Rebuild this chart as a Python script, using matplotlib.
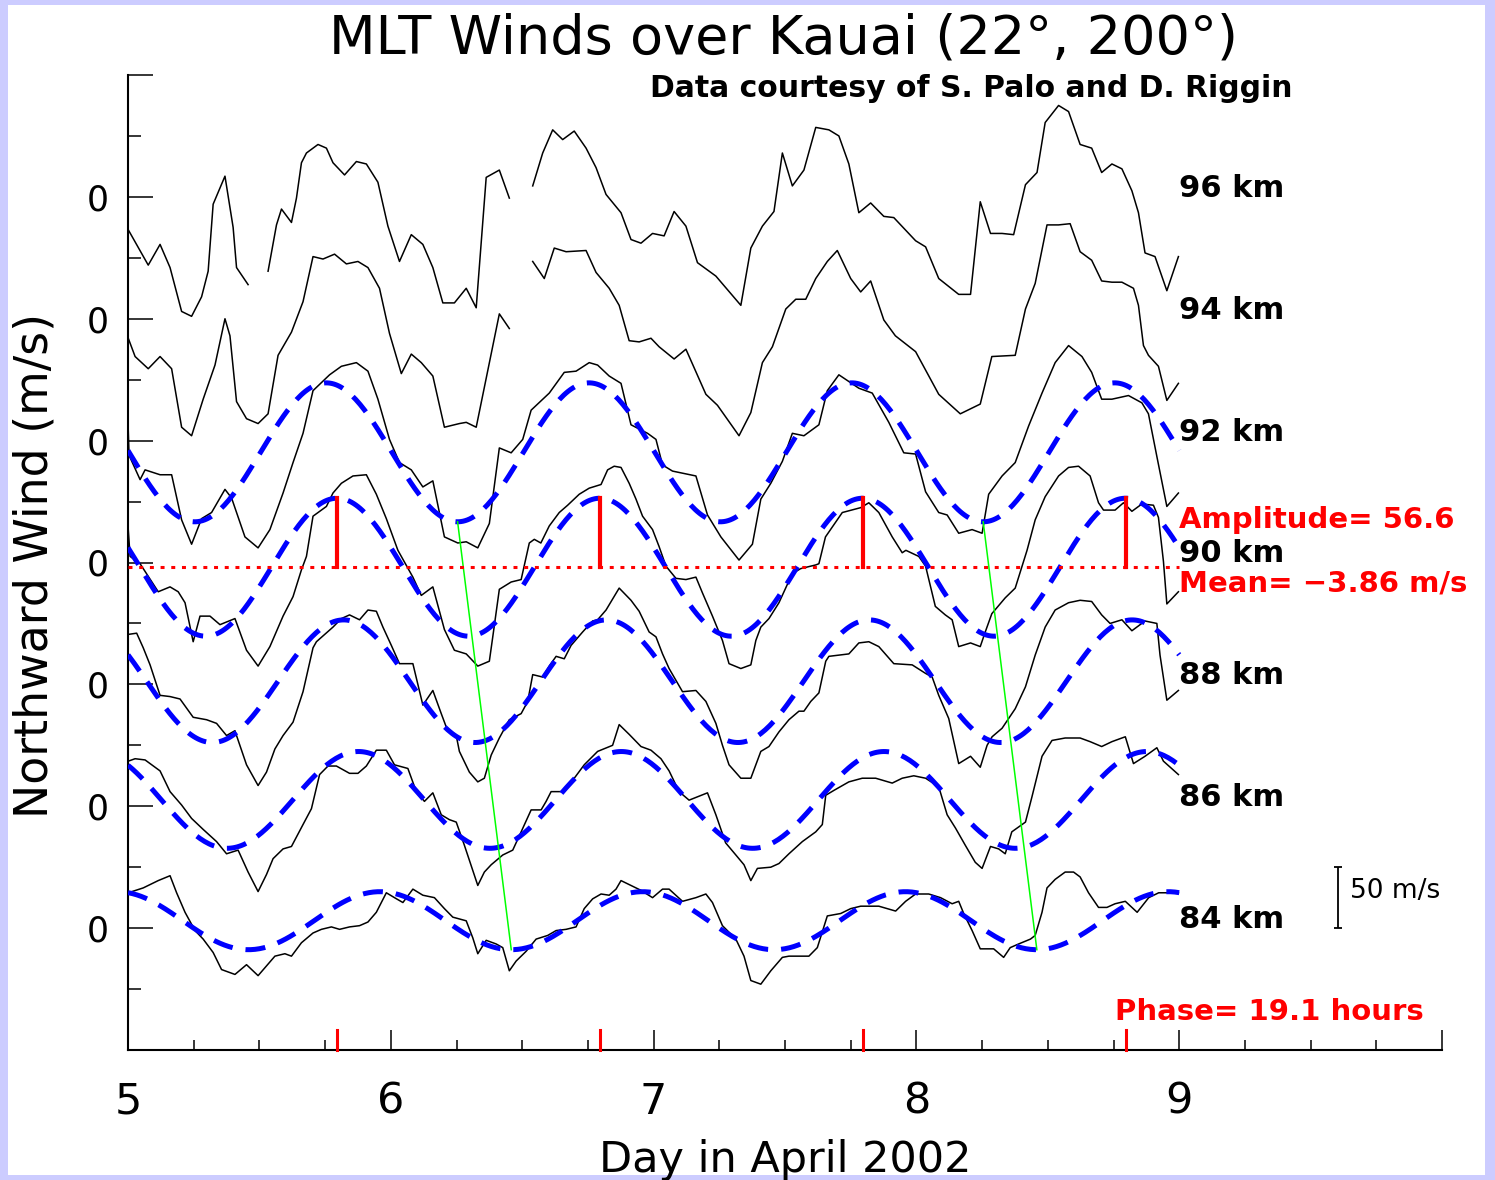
import numpy as np
import matplotlib.pyplot as plt
from matplotlib.patches import Rectangle
from matplotlib.ticker import FixedLocator, MultipleLocator, FuncFormatter
from matplotlib.transforms import blended_transform_factory

plt.rcParams['font.family'] = 'DejaVu Sans'

nan = np.nan

# every height is drawn shifted up by 100 m/s
heights = [84, 86, 88, 90, 92, 94, 96]
offsets = [0, 100, 200, 300, 400, 500, 600]

# northward wind (m/s) against day in April 2002, nan = data gap
t96 = [5.001, 5.077, 5.122, 5.160, 5.204, 5.242, 5.280, 5.305, 5.324, 5.369, 5.400, 5.413, 5.457, nan,
       5.533, 5.565, 5.584, 5.622, 5.641, 5.660, 5.679, 5.723, 5.755, 5.780, 5.824, 5.869, 5.907,
       5.951, 5.989, 6.033, 6.078, 6.122, 6.160, 6.198, 6.242, 6.287, 6.325, 6.363, 6.413, 6.451, nan,
       6.540, 6.578, 6.616, 6.654, 6.698, 6.743, 6.781, 6.819, 6.876, 6.914, 6.952, 6.996, 7.040,
       7.078, 7.123, 7.167, 7.237, 7.332, 7.370, 7.414, 7.458, 7.490, 7.528, 7.572, 7.617, 7.667,
       7.705, 7.743, 7.781, 7.826, 7.876, 7.914, 7.997, 8.035, 8.085, 8.161, 8.206, 8.243, 8.282,
       8.326, 8.370, 8.415, 8.459, 8.490, 8.541, 8.579, 8.623, 8.667, 8.705, 8.744, 8.782, 8.820,
       8.845, 8.870, 8.908, 8.953, 8.997]
u96 = [-27, -56, -39, -58, -94, -98, -82, -61, -6, 17, -25, -58, -72, nan,
       -61, -23, -10, -21, -1, 28, 36, 43, 40, 28, 18, 29, 27,
       12, -24, -53, -31, -39, -58, -87, -87, -75, -91, 16, 22, -1, nan,
       9, 36, 55, 47, 54, 40, 24, 2, -13, -35, -38, -30, -32,
       -12, -24, -54, -65, -89, -42, -24, -12, 36, 9, 22, 57, 55,
       50, 27, -13, -5, -16, -17, -36, -41, -67, -80, -80, -4, -30,
       -30, -31, 10, 20, 61, 75, 70, 43, 40, 20, 27, 23, 5,
       -13, -46, -49, -77, -49]

t94 = [5.001, 5.027, 5.077, 5.122, 5.166, 5.204, 5.242, 5.286, 5.331, 5.369, 5.388, 5.413, 5.451,
       5.495, 5.533, 5.571, 5.622, 5.666, 5.704, 5.742, 5.786, 5.831, 5.875, 5.913, 5.957, 5.995,
       6.040, 6.078, 6.116, 6.160, 6.204, 6.261, 6.287, 6.325, 6.413, 6.451, nan,
       6.540, 6.584, 6.622, 6.667, 6.743, 6.781, 6.831, 6.869, 6.907, 6.945, 6.990, 7.021, 7.078,
       7.123, 7.199, 7.243, 7.325, 7.370, 7.414, 7.452, 7.503, 7.541, 7.579, 7.617, 7.661, 7.699,
       7.750, 7.788, 7.826, 7.876, 7.920, 7.997, 8.085, 8.167, 8.243, 8.287, 8.376, 8.415, 8.452,
       8.497, 8.541, 8.585, 8.623, 8.667, 8.705, 8.744, 8.782, 8.826, 8.845, 8.864, 8.883, 8.921,
       8.953, 8.997]
u94 = [-16, -31, -41, -31, -41, -89, -96, -66, -38, 0, -14, -68, -82,
       -86, -78, -30, -11, 14, 51, 49, 53, 45, 47, 42, 25, -12,
       -45, -29, -36, -47, -89, -86, -85, -89, 4, -8, nan,
       47, 33, 58, 55, 56, 38, 25, 11, -18, -19, -16, -23, -33,
       -25, -62, -71, -96, -77, -36, -23, 8, 16, 16, 33, 47, 56,
       33, 22, 31, -1, -14, -27, -62, -78, -70, -31, -30, 8, 29,
       77, 77, 78, 55, 48, 31, 30, 30, 25, 11, -22, -30, -39,
       -67, -53]

t92 = [5.000, 5.004, 5.046, 5.065, 5.122, 5.166, 5.204, 5.242, 5.280, 5.318, 5.369, 5.394, 5.445,
       5.495, 5.540, 5.590, 5.628, 5.666, 5.704, 5.767, 5.812, 5.869, 5.913, 5.951, 5.995, 6.033,
       6.078, 6.122, 6.160, 6.204, 6.255, 6.287, 6.331, 6.375, 6.413, 6.458, 6.502, 6.534, 6.603,
       6.660, 6.705, 6.755, 6.787, 6.831, 6.876, 6.914, 6.977, 7.009, 7.034, 7.072, 7.161, 7.205,
       7.256, 7.325, 7.376, 7.408, 7.446, 7.490, 7.528, 7.572, 7.629, 7.661, 7.705, 7.781, 7.832,
       7.895, 7.952, 7.997, 8.035, 8.085, 8.117, 8.161, 8.212, 8.250, 8.275, 8.326, 8.376, 8.427,
       8.478, 8.528, 8.579, 8.630, 8.667, 8.705, 8.744, 8.807, 8.858, 8.883, 8.915, 8.953, 8.997]
u92 = [15, -12, -32, -24, -28, -28, -65, -85, -64, -59, -40, -47, -79,
       -88, -73, -43, -18, 6, 41, 54, 61, 64, 57, 34, 1, -18,
       -24, -38, -33, -79, -84, -83, -88, -68, -6, -10, 1, 25, 39,
       56, 57, 64, 62, 53, 47, 13, 6, 1, -20, -25, -29, -61,
       -79, -98, -85, -48, -35, -17, 6, 4, 13, 41, 54, 43, 39,
       15, -10, -11, -42, -59, -61, -76, -73, -76, -44, -29, -18, 12,
       39, 64, 78, 69, 56, 34, 34, 37, 31, 22, -13, -54, -43]

t90 = [5.000, 5.008, 5.046, 5.115, 5.160, 5.191, 5.217, 5.248, 5.274, 5.312, 5.350, 5.407, 5.451,
       5.495, 5.540, 5.590, 5.628, 5.660, 5.679, 5.704, 5.755, 5.780, 5.812, 5.856, 5.907, 5.945,
       5.983, 6.027, 6.084, 6.116, 6.160, 6.204, 6.242, 6.287, 6.331, 6.375, 6.388, 6.413, 6.458,
       6.496, 6.527, 6.546, 6.571, 6.603, 6.641, 6.673, 6.717, 6.755, 6.800, 6.825, 6.850, 6.876,
       6.907, 6.933, 6.958, 6.996, 7.021, 7.047, 7.085, 7.123, 7.161, 7.186, 7.224, 7.262, 7.287,
       7.332, 7.370, 7.389, 7.408, 7.439, 7.477, 7.528, 7.560, 7.617, 7.629, 7.654, 7.718, 7.788,
       7.819, 7.857, 7.908, 7.946, 7.960, 8.009, 8.035, 8.072, 8.110, 8.136, 8.161, 8.206, 8.243,
       8.262, 8.287, 8.338, 8.376, 8.421, 8.452, 8.490, 8.541, 8.579, 8.617, 8.661, 8.693, 8.712,
       8.756, 8.788, 8.820, 8.858, 8.902, 8.921, 8.940, 8.953, 8.997]
u90 = [30, 5, -1, -24, -20, -24, -33, -65, -44, -44, -51, -46, -72,
       -85, -69, -44, -28, -6, 5, 38, 46, 57, 65, 71, 72, 56,
       36, 10, -12, -27, -20, -55, -72, -75, -85, -81, -61, -22, -16,
       -14, 16, 19, 16, 30, 41, 47, 56, 61, 64, 76, 79, 78,
       65, 52, 38, 27, 13, -3, -13, -14, -12, -25, -44, -64, -83,
       -87, -84, -64, -53, -46, -33, -9, -5, -2, -1, 21, 41, 45,
       49, 41, 21, 8, 10, 5, -3, -36, -43, -47, -69, -66, -69,
       -57, -42, -29, -21, 10, 35, 54, 71, 78, 79, 71, 49, 43,
       43, 49, 42, 48, 47, 37, 1, -34, -24]

t88 = [5.001, 5.033, 5.058, 5.084, 5.122, 5.160, 5.198, 5.248, 5.299, 5.337, 5.375, 5.407, 5.413,
       5.451, 5.495, 5.527, 5.559, 5.590, 5.628, 5.666, 5.704, 5.717, 5.780, 5.812, 5.843, 5.881,
       5.913, 5.945, 5.970, 6.002, 6.033, 6.084, 6.122, 6.160, 6.192, 6.211, 6.249, 6.261, 6.299,
       6.331, 6.356, 6.382, 6.413, 6.451, 6.496, 6.521, 6.540, 6.578, 6.603, 6.629, 6.660, 6.686,
       6.730, 6.768, 6.787, 6.819, 6.869, 6.914, 6.945, 6.983, 7.009, 7.034, 7.059, 7.110, 7.161,
       7.199, 7.237, 7.262, 7.287, 7.332, 7.370, 7.389, 7.408, 7.439, 7.477, 7.515, 7.553, 7.572,
       7.598, 7.629, 7.655, 7.667, 7.743, 7.781, 7.819, 7.857, 7.914, 7.984, 8.035, 8.060, 8.085,
       8.123, 8.161, 8.206, 8.243, 8.269, 8.288, 8.326, 8.376, 8.415, 8.452, 8.490, 8.528, 8.579,
       8.623, 8.667, 8.705, 8.737, 8.782, 8.820, 8.870, 8.915, 8.927, 8.953, 8.997]
u88 = [41, 42, 30, 16, -9, -10, -12, -27, -29, -32, -42, -38, -42,
       -66, -83, -72, -53, -42, -31, -6, 30, 35, 47, 54, 57, 53,
       61, 60, 47, 32, 17, 17, -17, -5, -24, -35, -42, -55, -72,
       -80, -77, -58, -44, -29, -24, -14, 8, 6, 15, 23, 21, 32,
       43, 52, 53, 61, 79, 69, 60, 43, 39, 25, 13, -6, -5,
       -14, -32, -50, -66, -77, -77, -66, -55, -51, -39, -29, -22, -22,
       -14, -7, 19, 23, 25, 34, 35, 31, 17, 16, 9, 6, -9,
       -28, -65, -59, -68, -50, -43, -36, -20, -2, 24, 47, 61, 67,
       69, 68, 57, 50, 53, 44, 52, 50, 24, -13, -5]

t86 = [5.001, 5.027, 5.065, 5.122, 5.160, 5.204, 5.242, 5.286, 5.337, 5.375, 5.419, 5.457, 5.495,
       5.527, 5.552, 5.590, 5.622, 5.666, 5.698, 5.729, 5.761, 5.793, 5.843, 5.875, 5.907, 5.945,
       5.983, 6.014, 6.065, 6.097, 6.128, 6.160, 6.192, 6.223, 6.249, 6.280, 6.331, 6.356, 6.382,
       6.426, 6.464, 6.496, 6.534, 6.572, 6.591, 6.610, 6.660, 6.705, 6.736, 6.787, 6.844, 6.869,
       6.907, 6.952, 6.990, 7.028, 7.059, 7.097, 7.135, 7.205, 7.237, 7.274, 7.313, 7.344, 7.370,
       7.395, 7.446, 7.477, 7.515, 7.566, 7.617, 7.642, 7.655, 7.686, 7.743, 7.794, 7.845, 7.908,
       7.946, 7.990, 8.035, 8.085, 8.117, 8.149, 8.186, 8.224, 8.250, 8.282, 8.313, 8.338, 8.363,
       8.415, 8.440, 8.478, 8.516, 8.566, 8.623, 8.661, 8.705, 8.744, 8.782, 8.795, 8.826, 8.870,
       8.915, 8.940, 8.997]
u86 = [37, 39, 38, 29, 12, 1, -10, -19, -29, -39, -36, -54, -70,
       -56, -43, -35, -33, -15, -2, 26, 33, 33, 27, 27, 33, 46,
       46, 34, 31, 12, 4, 11, -7, -11, -13, -32, -65, -54, -48,
       -40, -36, -21, -3, -3, 4, 12, 12, 25, 34, 45, 50, 67,
       59, 49, 46, 39, 29, 12, 5, 11, -7, -30, -40, -48, -61,
       -51, -50, -47, -39, -29, -21, -15, 9, 13, 20, 23, 23, 19,
       23, 25, 23, 16, -7, -18, -32, -46, -51, -33, -35, -39, -21,
       -13, 8, 41, 54, 56, 56, 53, 49, 53, 56, 57, 35, 41,
       48, 37, 26]

t84 = [5.001, 5.058, 5.115, 5.160, 5.185, 5.217, 5.255, 5.286, 5.324, 5.356, 5.407, 5.451, 5.495,
       5.527, 5.559, 5.597, 5.622, 5.660, 5.704, 5.736, 5.774, 5.805, 5.843, 5.881, 5.913, 5.945,
       5.983, 6.014, 6.046, 6.084, 6.122, 6.166, 6.204, 6.236, 6.287, 6.312, 6.331, 6.363, 6.401,
       6.426, 6.451, 6.477, 6.515, 6.553, 6.597, 6.629, 6.667, 6.705, 6.736, 6.768, 6.800, 6.831,
       6.857, 6.876, 6.914, 6.952, 6.996, 7.034, 7.059, 7.110, 7.161, 7.199, 7.224, 7.262, 7.313,
       7.344, 7.370, 7.408, 7.446, 7.490, 7.515, 7.591, 7.623, 7.661, 7.712, 7.750, 7.788, 7.857,
       7.921, 7.959, 7.997, 8.047, 8.092, 8.136, 8.161, 8.180, 8.212, 8.243, 8.294, 8.332, 8.357,
       8.389, 8.434, 8.452, 8.478, 8.497, 8.528, 8.566, 8.598, 8.623, 8.655, 8.693, 8.725, 8.756,
       8.795, 8.840, 8.884, 8.922, 8.997]
u84 = [29, 33, 39, 43, 29, 13, -2, -9, -20, -34, -38, -30, -39,
       -31, -23, -21, -23, -12, -4, -1, 1, -1, 1, 2, 5, 13,
       29, 25, 21, 32, 27, 25, 16, 9, 6, -8, -21, -10, -13,
       -16, -35, -27, -19, -9, -6, -2, -1, 1, 16, 24, 28, 27,
       32, 39, 35, 31, 25, 32, 32, 22, 25, 28, 21, 2, -9,
       -23, -43, -46, -35, -24, -23, -23, -16, 10, 12, 16, 18, 18,
       14, 22, 28, 28, 25, 20, 22, 12, -2, -17, -17, -24, -16,
       -13, -9, -6, 13, 33, 40, 46, 46, 42, 29, 17, 17, 20,
       22, 13, 25, 29, 29]

series = {96: (t96, u96), 94: (t94, u94), 92: (t92, u92), 90: (t90, u90),
          88: (t88, u88), 86: (t86, u86), 84: (t84, u84)}

# 24-hour harmonic fits: amplitude (m/s), mean (m/s), phase = hour of maximum
fit_heights = [92, 90, 88, 86, 84]
fit_amp = [57.0, 56.6, 50.3, 39.7, 23.8]
fit_mean = [-9.6, -3.86, 2.6, 5.2, 6.1]
fit_phase = [18.1, 19.1, 19.7, 21.05, 23.0]


def tide(t, amp, mean, phase):
    return mean + amp * np.cos(2 * np.pi * (t - phase / 24.0))


fig = plt.figure(figsize=(14.95, 11.8), dpi=100)
fig.patch.set_facecolor('#ccccff')
fig.add_artist(Rectangle((8 / 1495, 5 / 1180), 1477 / 1495, 1170 / 1180,
                         transform=fig.transFigure, facecolor='white',
                         edgecolor='none', zorder=-10))

ax = fig.add_axes([128 / 1495, 130 / 1180, 1314 / 1495, 975 / 1180])
ax.set_xlim(5, 10)
ax.set_ylim(-100, 700)
ax.spines['top'].set_visible(False)
ax.spines['right'].set_visible(False)
for s in ('left', 'bottom'):
    ax.spines[s].set_linewidth(1.5)

# raw winds
for h, off in zip(heights, offsets):
    t, u = series[h]
    ax.plot(t, np.asarray(u, float) + off, color='black', lw=1.1, zorder=3)
    ax.text(9.0, off, f'{h} km', fontsize=22, fontweight='bold',
            ha='left', va='baseline', clip_on=False)

# harmonic fits
tt = np.linspace(5, 9, 481)
off_of = dict(zip(heights, offsets))
for h, a, m, p in zip(fit_heights, fit_amp, fit_mean, fit_phase):
    ax.plot(tt, tide(tt, a, m, p) + off_of[h], color='#0000ff', lw=3.6,
            linestyle=(0, (4, 2.6)), zorder=4)

# phase progression between the 92 km and 84 km minima
for d in [6, 8]:
    t_top = d + fit_phase[0] / 24 - 0.5
    t_bot = d + fit_phase[-1] / 24 - 0.5
    ax.plot([t_top, t_bot],
            [fit_mean[0] - fit_amp[0] + off_of[92], fit_mean[-1] - fit_amp[-1] + off_of[84]],
            color='#00ff00', lw=1.1, zorder=5)

# 90 km: mean, amplitude and phase markers
amp90, mean90, ph90 = fit_amp[1], fit_mean[1], fit_phase[1]
base90 = off_of[90]
ax.plot([5, 9], [base90 + mean90] * 2, color='red', lw=2.2,
        linestyle=(0, (1.3, 2.2)), zorder=5)
peaks = [5 + ph90 / 24 + n for n in range(4)]
trans = blended_transform_factory(ax.transData, ax.transAxes)
for pk in peaks:
    ax.plot([pk, pk], [base90 + mean90, base90 + mean90 + amp90], color='red',
            lw=3, zorder=6)
    ax.plot([pk, pk], [0, 20 / 975], color='red', lw=2.2, transform=trans,
            clip_on=False, zorder=6)

ax.text(9.0, base90 + 28, f'Amplitude= {amp90}', color='red', fontsize=21,
        fontweight='bold', ha='left', va='baseline', clip_on=False)
ax.text(9.0, base90 - 24, f'Mean= \u2212{abs(mean90)} m/s', color='red',
        fontsize=21, fontweight='bold', ha='left', va='baseline', clip_on=False)
ax.text(8.757, -75, f'Phase= {ph90} hours', color='red', fontsize=21,
        fontweight='bold', ha='left', va='baseline', clip_on=False)

# 50 m/s scale bar
ax.errorbar(9.604, 25, yerr=25, fmt='none', ecolor='black', elinewidth=1.3,
            capsize=3, capthick=1.3, clip_on=False)
ax.text(9.65, 24.7, '50 m/s', fontsize=19, ha='left', va='baseline')

# axes ticks
ax.xaxis.set_major_locator(FixedLocator([5, 6, 7, 8, 9, 10]))
ax.xaxis.set_major_formatter(FuncFormatter(lambda v, p: f'{v:.0f}' if v < 9.5 else ''))
ax.xaxis.set_minor_locator(MultipleLocator(0.25))
ax.yaxis.set_major_locator(MultipleLocator(100))
ax.yaxis.set_major_formatter(FuncFormatter(lambda v, p: '0' if -1 < v < 601 else ''))
ax.yaxis.set_minor_locator(MultipleLocator(50))
ax.tick_params(axis='x', which='major', direction='in', length=14.4, width=1.1,
               labelsize=31, pad=22)
ax.tick_params(axis='x', which='minor', direction='in', length=7.2, width=1.1)
ax.tick_params(axis='y', which='major', direction='in', length=18, width=1.1,
               labelsize=25, pad=14)
ax.tick_params(axis='y', which='minor', direction='in', length=9.4, width=1.1)

fig.text(785 / 1495, 1 - 1172 / 1180, 'Day in April 2002', fontsize=31,
         ha='center', va='baseline')
fig.text(35 / 1495, 1 - 565 / 1180, 'Northward Wind (m/s)', fontsize=33,
         rotation=90, ha='center', va='center')
fig.text(783 / 1495, 1 - 53 / 1180, 'MLT Winds over Kauai (22\u00b0, 200\u00b0)',
         fontsize=39, ha='center', va='baseline')
fig.text(1293 / 1495, 1 - 97 / 1180, 'Data courtesy of S. Palo and D. Riggin',
         fontsize=21.5, fontweight='bold', ha='right', va='baseline')

fig.savefig('out.png', dpi=100)
